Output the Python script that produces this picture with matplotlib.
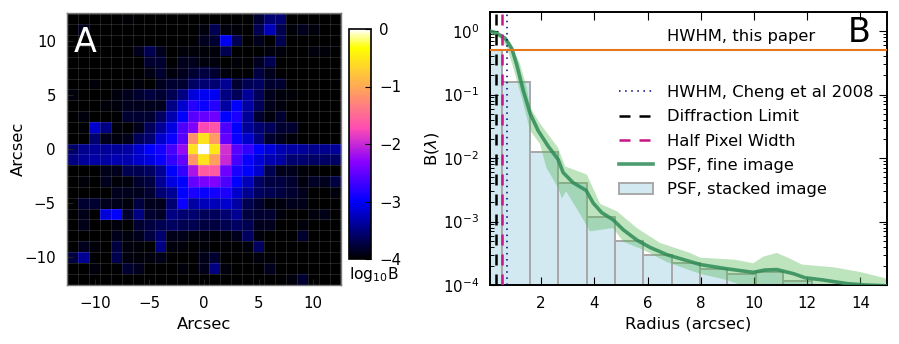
import numpy as np
import matplotlib
matplotlib.use('Agg')
import matplotlib.pyplot as plt
from matplotlib.ticker import LogLocator, NullFormatter

g = -3.99
psf_image = [
 [g,g,g,g,g,-3.98,g,g,g,g,g,g,g,g,g,g,g,-3.8,-3.55,-3.55,g,g,g,g,g],
 [g,-3.88,g,g,g,g,g,g,g,g,g,g,-3.94,-3.68,-3.94,-3.96,g,-3.68,-3.28,-3.68,-3.96,-3.88,-3.94,g,g],
 [g,g,g,g,g,g,g,g,g,g,g,g,-3.88,-3.8,-3.05,-3.68,g,-3.88,-4.0,-3.68,g,g,g,g,g],
 [g,g,g,g,g,g,-3.88,-3.68,-3.88,g,-3.96,-3.96,-3.96,-3.96,-3.68,g,g,g,-3.94,-3.94,g,g,-3.94,-3.96,g],
 [g,g,g,g,g,g,g,-3.8,-3.8,g,-3.88,-3.88,-3.94,-3.94,g,-3.96,g,-3.88,-3.68,g,g,g,g,g,g],
 [g,g,g,g,g,g,g,-3.92,-3.8,-3.94,-3.88,-3.8,-3.75,-3.8,-3.94,g,g,-3.75,-3.88,g,g,g,g,g,g],
 [g,g,-3.96,g,g,g,-3.96,g,-3.88,-3.8,-3.8,-3.62,-3.55,-3.55,-3.42,-3.8,-3.68,-3.62,-3.8,-3.8,g,g,g,g,g],
 [-3.94,g,g,g,-3.94,-3.88,-3.8,-3.75,-3.8,-3.68,-3.5,-3.15,-3.05,-3.05,-3.5,-3.65,-3.4,-3.65,-3.88,-3.94,-3.96,g,g,g,g],
 [g,g,g,-3.96,-3.94,-3.88,-3.88,-3.88,-3.88,-3.48,-3.2,-2.8,-2.95,-2.8,-3.35,-3.0,-3.35,-3.65,-3.9,-3.94,g,g,g,g,g],
 [g,-3.94,g,g,g,-3.8,-3.8,-3.8,-3.62,-3.3,-3.0,-2.55,-2.5,-2.45,-3.0,-2.85,-3.4,-3.8,-3.94,-3.8,g,g,g,g,g],
 [g,g,-3.2,-3.48,-3.96,-4.0,-3.88,-3.65,-3.4,-3.12,-2.6,-2.35,-1.75,-1.65,-2.6,-3.0,-3.4,-3.55,-3.65,-3.8,-3.8,g,g,g,g],
 [g,g,-3.55,-3.88,-3.94,-3.9,-3.65,-3.55,-3.2,-2.95,-2.55,-1.2,-0.55,-1.1,-2.5,-2.95,-3.2,-3.48,-3.8,-3.88,-3.96,g,g,g,g],
 [-3.6,-3.45,-3.4,-3.4,-3.4,-3.35,-3.2,-3.0,-2.9,-2.65,-2.25,-0.55,0.0,-0.5,-1.95,-2.55,-2.75,-3.0,-3.15,-3.3,-3.35,-3.4,-3.45,-3.45,-3.4],
 [-3.5,-3.4,-3.35,-3.35,-3.3,-3.3,-3.2,-3.1,-2.95,-2.75,-2.5,-1.15,-0.55,-1.05,-2.0,-2.65,-2.95,-3.15,-3.3,-3.35,-3.55,-3.55,-3.6,-3.6,-3.6],
 [g,g,g,-3.9,-3.88,-3.68,-3.68,-3.62,-3.42,-3.0,-2.75,-2.15,-1.6,-1.6,-2.45,-2.85,-3.0,-3.2,-3.68,-3.88,-3.88,-3.96,-3.98,g,g],
 [g,-3.96,g,-3.88,-3.96,-3.94,-3.8,-3.75,-3.42,-3.12,-3.0,-2.5,-2.4,-2.35,-2.6,-3.0,-3.28,-3.6,-3.75,-3.75,-3.8,-3.94,-3.85,-3.88,-3.75],
 [g,g,g,g,-3.88,-3.88,-3.88,-3.8,-3.55,-3.42,-3.0,-2.85,-2.95,-2.9,-2.85,-3.2,-3.42,-3.62,-3.68,-3.75,-3.8,-3.88,g,g,-3.94],
 [g,-3.8,-3.8,-3.88,-3.88,-3.94,-3.75,-3.88,-3.88,-3.55,-2.95,-3.35,-3.28,-3.28,-3.2,-3.35,-3.68,-3.8,-3.94,-3.94,-3.88,-3.9,g,g,g],
 [g,-3.9,g,-3.15,-3.0,-3.8,-3.48,-3.8,-3.85,-3.48,-3.55,-3.55,-3.65,-3.65,-3.55,-3.42,-3.75,-3.8,-3.8,-3.94,g,g,-3.94,-3.9,g],
 [g,-3.9,g,g,-3.94,g,-3.8,-3.75,-3.68,-3.62,-3.68,-3.68,-3.75,-3.75,-3.68,-3.62,-3.68,-3.88,-3.88,g,g,-3.94,g,g,g],
 [g,g,g,g,-3.88,-3.94,-3.88,-3.75,-3.55,-3.9,-3.9,-3.94,-3.94,-3.96,-3.94,-3.88,-3.62,-3.94,g,g,g,-3.8,g,g,g],
 [g,-3.88,-3.96,g,-3.75,-3.94,-3.96,g,-3.48,-3.94,-3.96,g,-3.96,g,-3.98,g,-3.94,-3.62,g,g,g,g,g,g,g],
 [-3.75,-3.42,g,g,-3.68,-3.94,-3.96,-3.94,-3.9,g,g,g,-3.9,-3.8,g,g,g,-3.94,-3.98,g,g,g,g,g,g],
 [g,g,-3.94,g,g,-3.8,-3.88,g,g,g,-3.94,g,-3.9,-3.48,-3.94,g,g,g,-3.88,g,g,g,g,g,g],
 [g,g,g,g,g,g,g,g,g,g,g,g,g,g,g,g,g,g,g,g,-3.94,-3.8,g,g,g],
]

bar_left = [0.0,0.53,1.59,2.64,3.73,4.78,5.83,6.92,7.97,9.0,10.08,11.1,12.2,13.25,14.3]
bar_height = [0.5,0.16,0.0126,0.0041,0.0012,0.0005,0.0003,0.00022,0.00018,0.00015,0.00016,0.000115,0.00009,0.00008,0.00007]

line_x = [0.1,0.33,0.65,0.9,1.09,1.33,1.59,1.89,2.26,2.64,2.83,3.2,3.69,3.96,4.28,4.7,5.09,5.6,6.1,6.73,7.23,7.98,8.98,9.97,10.4,10.86,11.5,11.92,12.6,13.5,14.2,15.0]
line_y = [1.0,0.93,0.77,0.53,0.29,0.116,0.05,0.027,0.0155,0.0095,0.0059,0.0041,0.0031,0.00195,0.00138,0.00107,0.00074,0.00051,0.00039,0.0003,0.00026,0.00021,0.00018,0.000158,0.000172,0.000175,0.00015,0.00013,0.00012,0.000105,0.0001,0.000097]

up_x = [0.1,0.83,1.2,1.46,1.59,1.96,2.64,2.9,3.72,4.22,4.85,5.6,6.47,7.6,7.98,9.3,9.97,10.35,10.86,11.36,11.8,13.0,14.0,15.0]
up_y = [1.04,0.68,0.31,0.13,0.063,0.035,0.0145,0.0074,0.0055,0.0019,0.00145,0.00079,0.00046,0.00032,0.00027,0.00025,0.00022,0.00028,0.00032,0.00026,0.00021,0.00019,0.00016,0.000126]
lo_x = [0.1,0.46,0.71,0.95,1.27,1.59,1.96,2.2,2.64,2.78,2.94,3.47,3.84,4.7,5.09,5.83,6.73,7.6,7.98,8.98,9.5,15.0]
lo_y = [0.9,0.77,0.56,0.27,0.09,0.027,0.0166,0.007,0.0034,0.0023,0.003,0.0013,0.0007,0.00079,0.00048,0.00036,0.00023,0.00017,0.00015,0.00012,0.0001,0.00009]

half_extent = 12.55
W, H = 899, 344
LABEL = 11.8
TICK = 10.8
plt.rcParams['font.family'] = 'DejaVu Sans'
fig = plt.figure(figsize=(W/100, H/100), dpi=100)

def box(l, t, r, b):
    return [l/W, 1-b/H, (r-l)/W, (b-t)/H]

ax = fig.add_axes(box(67, 13, 341, 285))
im = ax.imshow(np.array(psf_image), cmap='gnuplot2', vmin=-4, vmax=0,
               extent=[-half_extent, half_extent, -half_extent, half_extent],
               interpolation='nearest', aspect='auto')
edges = np.arange(-12, 13) + 0.5
ax.set_xticks(edges, minor=True); ax.set_yticks(edges, minor=True)
ax.grid(which='minor', color='white', alpha=0.15, lw=0.6)
ax.tick_params(which='minor', length=0)
ax.set_xticks([-10, -5, 0, 5, 10]); ax.set_yticks([-10, -5, 0, 5, 10])
ax.tick_params(which='major', direction='in', length=4, color='#222222', labelsize=TICK, pad=8)
ax.set_xlim(-half_extent, half_extent); ax.set_ylim(-half_extent, half_extent)
ax.set_xlabel('Arcsec', fontsize=LABEL, labelpad=4)
ax.set_ylabel('Arcsec', fontsize=LABEL, labelpad=-1)
for s in ax.spines.values():
    s.set_color('#777777'); s.set_linewidth(1)
ax.text(0.025, 0.893, 'A', transform=ax.transAxes, color='white', fontsize=24, va='center')

cax = fig.add_axes(box(349, 29, 371, 259))
cb = fig.colorbar(im, cax=cax, ticks=[0, -1, -2, -3, -4])
cb.ax.tick_params(direction='in', length=4, labelsize=TICK, pad=6)
cb.outline.set_linewidth(1.2)
cax.text(0.0, -0.068, r'log$_{10}$B', transform=cax.transAxes, ha='left', va='center', fontsize=11.2, clip_on=False)

bx = fig.add_axes(box(490, 12, 887, 285))
bx.set_yscale('log')
bar_w = np.diff(bar_left + [15.36])
bx.bar(bar_left, bar_height, width=bar_w, align='edge', color='#d2e9f2', edgecolor='#a8a8a8',
       lw=1.4, label='PSF, stacked image', zorder=1)
bx.fill(list(up_x) + list(lo_x)[::-1], list(up_y) + list(lo_y)[::-1], color='#55b955', alpha=0.38, lw=0, zorder=2)
bx.plot(line_x, line_y, color='#2e8b57', lw=2.6, alpha=0.85, label='PSF, fine image', zorder=3)
bx.axhline(0.5, color='#e8761a', lw=1.5, zorder=4)
bx.axvline(0.73, color='navy', lw=1.1, dashes=(1, 3), label='HWHM, Cheng et al 2008', zorder=5)
bx.axvline(0.31, color='black', lw=1.8, dashes=(4.4, 3.6), label='Diffraction Limit', zorder=5)
bx.axvline(0.52, color='#c71585', lw=1.8, dashes=(4.4, 3.6), label='Half Pixel Width', zorder=5)
bx.set_xlim(0.08, 15); bx.set_ylim(1e-4, 2)
bx.set_xticks([2, 4, 6, 8, 10, 12, 14])
bx.yaxis.set_major_locator(LogLocator(base=10, numticks=8))
bx.yaxis.set_minor_locator(LogLocator(base=10, subs=np.arange(2, 10), numticks=20))
bx.yaxis.set_minor_formatter(NullFormatter())
bx.tick_params(which='both', direction='in', top=True, right=True, labelsize=TICK, pad=8)
bx.tick_params(which='major', length=6, width=0.8)
bx.tick_params(which='minor', length=3, width=0.7)
bx.set_xlabel('Radius (arcsec)', fontsize=LABEL, labelpad=4)
bx.set_ylabel('B($\\lambda$)', fontsize=LABEL, labelpad=1)
for s in bx.spines.values():
    s.set_linewidth(1.4)
bx.text((667-490)/397, 1-(37-12)/273, 'HWHM, this paper', transform=bx.transAxes, fontsize=LABEL, va='center')
bx.text((848-490)/397, 1-(33-12)/273, 'B', transform=bx.transAxes, fontsize=24, va='center')

h, l = bx.get_legend_handles_labels()
order = [l.index(n) for n in ['HWHM, Cheng et al 2008', 'Diffraction Limit', 'Half Pixel Width', 'PSF, fine image', 'PSF, stacked image']]
bx.legend([h[i] for i in order], [l[i] for i in order], frameon=False, fontsize=LABEL,
          loc='upper left', bbox_to_anchor=((619-490)/397, 1-(85-12)/273),
          handlelength=2.1, labelspacing=0.57, handletextpad=0.8, borderpad=0, borderaxespad=0)
fig.savefig('out.png', dpi=100)
